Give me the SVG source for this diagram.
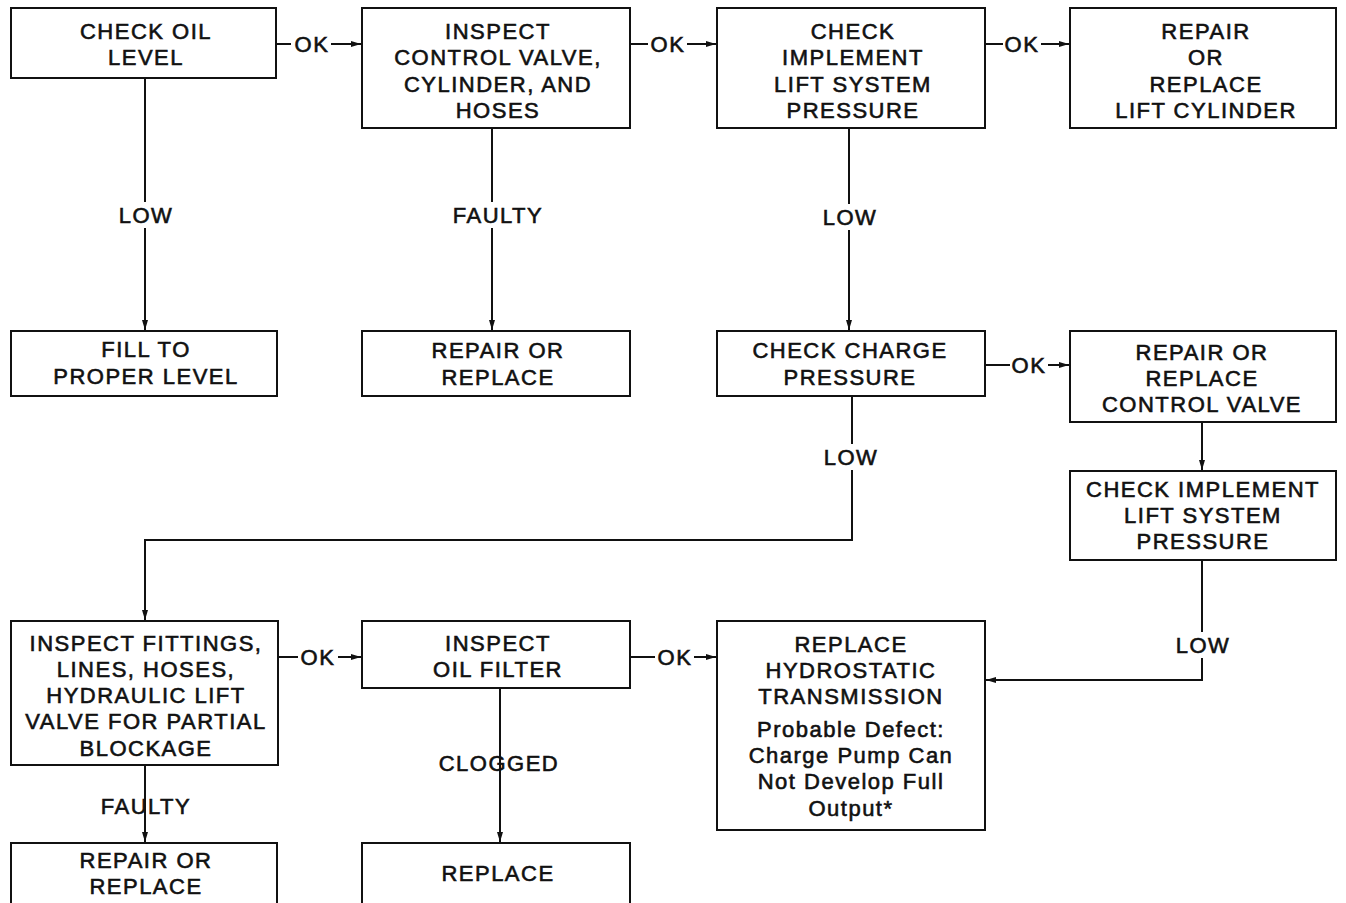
<svg xmlns="http://www.w3.org/2000/svg" width="1346" height="903" viewBox="0 0 1346 903">
<style>
.box{fill:#fff;stroke:#111;stroke-width:2}
.t{font-family:"Liberation Sans",Arial,sans-serif;font-size:22px;letter-spacing:1.5px;text-anchor:middle;fill:#111;stroke:#111;stroke-width:0.6}
.c{fill:none;stroke:#111;stroke-width:2}
</style>
<defs>
<marker id="ah" markerUnits="userSpaceOnUse" markerWidth="12" markerHeight="10" refX="10" refY="4" orient="auto">
<path d="M0,1 L10,4 L0,7 Z" fill="#111"/>
</marker>
</defs>
<rect width="1346" height="903" fill="#fff"/>
<g id="connectors">
<path class="c" d="M276,44 H291"/><path class="c" d="M331,44 H361" marker-end="url(#ah)"/>
<path class="c" d="M630,44 H648"/><path class="c" d="M687,44 H716" marker-end="url(#ah)"/>
<path class="c" d="M985,44 H1003"/><path class="c" d="M1041,44 H1069" marker-end="url(#ah)"/>
<path class="c" d="M985,365 H1010"/><path class="c" d="M1048,365 H1069" marker-end="url(#ah)"/>
<path class="c" d="M278,657 H298"/><path class="c" d="M338,657 H361" marker-end="url(#ah)"/>
<path class="c" d="M630,657 H655"/><path class="c" d="M694,657 H716" marker-end="url(#ah)"/>
<path class="c" d="M145,78 V202"/><path class="c" d="M145,228 V330" marker-end="url(#ah)"/>
<path class="c" d="M492,128 V202"/><path class="c" d="M492,228 V330" marker-end="url(#ah)"/>
<path class="c" d="M849,128 V204"/><path class="c" d="M849,230 V330" marker-end="url(#ah)"/>
<path class="c" d="M852,396 V444"/><path class="c" d="M852,470 V540 H145 V620" marker-end="url(#ah)"/>
<path class="c" d="M1202,422 V470" marker-end="url(#ah)"/>
<path class="c" d="M1202,560 V632"/><path class="c" d="M1202,658 V680 H986" marker-end="url(#ah)"/>
<path class="c" d="M145,765 V842" marker-end="url(#ah)"/>
<path class="c" d="M500,688 V842" marker-end="url(#ah)"/>
</g>
<g id="labels">
<text class="t" x="312" y="52">OK</text>
<text class="t" x="668" y="52">OK</text>
<text class="t" x="1022" y="52">OK</text>
<text class="t" x="1029" y="373">OK</text>
<text class="t" x="318" y="665">OK</text>
<text class="t" x="675" y="665">OK</text>
<text class="t" x="146" y="223">LOW</text>
<text class="t" x="498" y="223">FAULTY</text>
<text class="t" x="850" y="225">LOW</text>
<text class="t" x="851" y="465">LOW</text>
<text class="t" x="1203" y="653">LOW</text>
<text class="t" x="146" y="814">FAULTY</text>
<text class="t" x="499" y="771">CLOGGED</text>
</g>
<g id="n1"><rect class="box" x="11" y="8" width="265" height="70"/>
<text class="t" x="146" y="39">CHECK OIL</text><text class="t" x="146" y="65">LEVEL</text></g>
<g id="n2"><rect class="box" x="362" y="8" width="268" height="120"/>
<text class="t" x="498" y="39">INSPECT</text><text class="t" x="498" y="65">CONTROL VALVE,</text><text class="t" x="498" y="92">CYLINDER, AND</text><text class="t" x="498" y="118">HOSES</text></g>
<g id="n3"><rect class="box" x="717" y="8" width="268" height="120"/>
<text class="t" x="853" y="39">CHECK</text><text class="t" x="853" y="65">IMPLEMENT</text><text class="t" x="853" y="92">LIFT SYSTEM</text><text class="t" x="853" y="118">PRESSURE</text></g>
<g id="n4"><rect class="box" x="1070" y="8" width="266" height="120"/>
<text class="t" x="1206" y="39">REPAIR</text><text class="t" x="1206" y="65">OR</text><text class="t" x="1206" y="92">REPLACE</text><text class="t" x="1206" y="118">LIFT CYLINDER</text></g>
<g id="n5"><rect class="box" x="11" y="331" width="266" height="65"/>
<text class="t" x="146" y="357">FILL TO</text><text class="t" x="146" y="384">PROPER LEVEL</text></g>
<g id="n6"><rect class="box" x="362" y="331" width="268" height="65"/>
<text class="t" x="498" y="358">REPAIR OR</text><text class="t" x="498" y="385">REPLACE</text></g>
<g id="n7"><rect class="box" x="717" y="331" width="268" height="65"/>
<text class="t" x="850" y="358">CHECK CHARGE</text><text class="t" x="850" y="385">PRESSURE</text></g>
<g id="n8"><rect class="box" x="1070" y="331" width="266" height="91"/>
<text class="t" x="1202" y="360">REPAIR OR</text><text class="t" x="1202" y="386">REPLACE</text><text class="t" x="1202" y="412">CONTROL VALVE</text></g>
<g id="n9"><rect class="box" x="1070" y="471" width="266" height="89"/>
<text class="t" x="1203" y="497">CHECK IMPLEMENT</text><text class="t" x="1203" y="523">LIFT SYSTEM</text><text class="t" x="1203" y="549">PRESSURE</text></g>
<g id="n10"><rect class="box" x="11" y="621" width="267" height="144"/>
<text class="t" x="146" y="651">INSPECT FITTINGS,</text><text class="t" x="146" y="677">LINES, HOSES,</text><text class="t" x="146" y="703">HYDRAULIC LIFT</text><text class="t" x="146" y="729">VALVE FOR PARTIAL</text><text class="t" x="146" y="756">BLOCKAGE</text></g>
<g id="n11"><rect class="box" x="362" y="621" width="268" height="67"/>
<text class="t" x="498" y="651">INSPECT</text><text class="t" x="498" y="677">OIL FILTER</text></g>
<g id="n12"><rect class="box" x="717" y="621" width="268" height="209"/>
<text class="t" x="851" y="652">REPLACE</text><text class="t" x="851" y="678">HYDROSTATIC</text><text class="t" x="851" y="704">TRANSMISSION</text><text class="t" x="851" y="737">Probable Defect:</text><text class="t" x="851" y="763">Charge Pump Can</text><text class="t" x="851" y="789">Not Develop Full</text><text class="t" x="851" y="816">Output*</text></g>
<g id="n13"><rect class="box" x="11" y="843" width="266" height="70"/>
<text class="t" x="146" y="868">REPAIR OR</text><text class="t" x="146" y="894">REPLACE</text></g>
<g id="n14"><rect class="box" x="362" y="843" width="268" height="70"/>
<text class="t" x="498" y="881">REPLACE</text></g>
</svg>
